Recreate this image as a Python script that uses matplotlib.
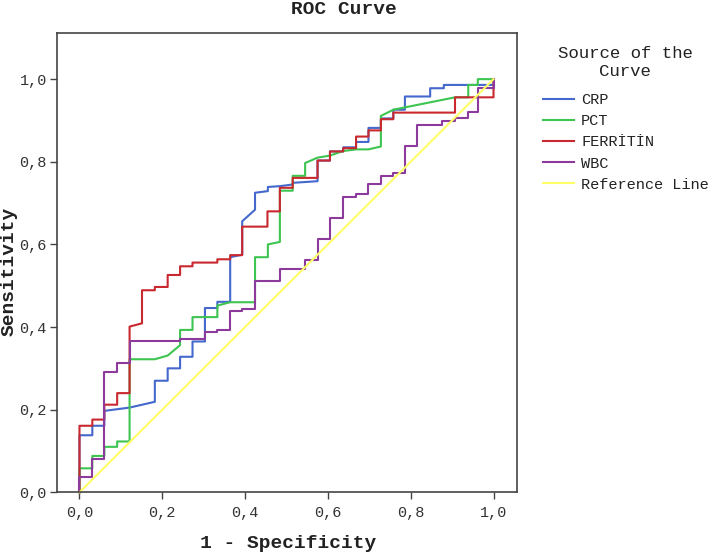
import matplotlib
matplotlib.use("Agg")
import matplotlib.pyplot as plt

# ROC points (1 - specificity, sensitivity)
crp_x = [0, 0, 0.031, 0.031, 0.060, 0.060, 0.121, 0.182, 0.182, 0.213, 0.213, 0.243, 0.243,
         0.273, 0.273, 0.303, 0.303, 0.333, 0.333, 0.364, 0.364, 0.393, 0.393, 0.424, 0.424,
         0.455, 0.455, 0.484, 0.515, 0.515, 0.545, 0.575, 0.575, 0.605, 0.605, 0.637, 0.637,
         0.668, 0.668, 0.698, 0.698, 0.728, 0.728, 0.758, 0.758, 0.786, 0.786, 0.847, 0.847,
         0.880, 0.880, 1.0, 1.0]
crp_y = [0, 0.138, 0.138, 0.161, 0.161, 0.197, 0.205, 0.219, 0.270, 0.270, 0.300, 0.300, 0.328,
         0.328, 0.365, 0.365, 0.446, 0.446, 0.461, 0.461, 0.569, 0.575, 0.656, 0.684, 0.725,
         0.729, 0.739, 0.741, 0.745, 0.749, 0.751, 0.753, 0.803, 0.803, 0.825, 0.825, 0.835,
         0.835, 0.848, 0.848, 0.882, 0.882, 0.905, 0.905, 0.926, 0.926, 0.958, 0.958, 0.978,
         0.978, 0.986, 0.986, 1.0]

pct_x = [0, 0, 0.031, 0.031, 0.060, 0.060, 0.091, 0.091, 0.121, 0.121, 0.182, 0.213, 0.243,
         0.243, 0.273, 0.273, 0.333, 0.333, 0.364, 0.424, 0.424, 0.455, 0.455, 0.484, 0.484,
         0.515, 0.515, 0.545, 0.545, 0.575, 0.605, 0.637, 0.668, 0.698, 0.728, 0.728, 0.758,
         0.907, 0.939, 0.939, 0.962, 0.962, 1.0]
pct_y = [0, 0.058, 0.058, 0.088, 0.088, 0.110, 0.110, 0.123, 0.123, 0.322, 0.322, 0.331, 0.356,
         0.393, 0.393, 0.424, 0.424, 0.452, 0.460, 0.460, 0.569, 0.569, 0.600, 0.606, 0.730,
         0.730, 0.766, 0.766, 0.797, 0.810, 0.815, 0.826, 0.830, 0.830, 0.837, 0.911, 0.926,
         0.956, 0.956, 0.986, 0.986, 1.0, 1.0]

fer_x = [0, 0, 0.031, 0.031, 0.060, 0.060, 0.091, 0.091, 0.121, 0.121, 0.151, 0.151, 0.182,
         0.182, 0.213, 0.213, 0.243, 0.243, 0.273, 0.273, 0.333, 0.333, 0.364, 0.364, 0.393,
         0.393, 0.454, 0.454, 0.484, 0.484, 0.515, 0.515, 0.575, 0.575, 0.605, 0.605, 0.637,
         0.637, 0.668, 0.668, 0.698, 0.698, 0.728, 0.728, 0.758, 0.758, 0.907, 0.907, 1.0, 1.0]
fer_y = [0, 0.161, 0.161, 0.176, 0.176, 0.212, 0.212, 0.240, 0.240, 0.401, 0.409, 0.489, 0.489,
         0.497, 0.497, 0.526, 0.526, 0.547, 0.547, 0.556, 0.556, 0.564, 0.564, 0.574, 0.574,
         0.643, 0.643, 0.680, 0.680, 0.737, 0.737, 0.761, 0.761, 0.803, 0.803, 0.825, 0.825,
         0.833, 0.833, 0.861, 0.861, 0.876, 0.876, 0.903, 0.903, 0.919, 0.919, 0.956, 0.956, 1.0]

wbc_x = [0, 0, 0.031, 0.031, 0.060, 0.060, 0.091, 0.091, 0.121, 0.121, 0.243, 0.243, 0.303,
         0.303, 0.333, 0.333, 0.364, 0.364, 0.393, 0.393, 0.424, 0.424, 0.484, 0.484, 0.545,
         0.545, 0.575, 0.575, 0.605, 0.605, 0.637, 0.637, 0.668, 0.668, 0.698, 0.698, 0.728,
         0.728, 0.758, 0.758, 0.786, 0.786, 0.816, 0.816, 0.876, 0.876, 0.907, 0.907, 0.939,
         0.939, 0.962, 0.962, 1.0, 1.0]
wbc_y = [0, 0.036, 0.036, 0.080, 0.080, 0.291, 0.291, 0.314, 0.314, 0.365, 0.365, 0.372, 0.372,
         0.388, 0.388, 0.394, 0.394, 0.439, 0.439, 0.444, 0.444, 0.511, 0.511, 0.541, 0.541,
         0.562, 0.562, 0.613, 0.613, 0.664, 0.664, 0.715, 0.715, 0.723, 0.723, 0.746, 0.746,
         0.766, 0.766, 0.772, 0.772, 0.837, 0.837, 0.890, 0.890, 0.899, 0.899, 0.905, 0.905,
         0.921, 0.921, 0.978, 0.978, 1.0]

ref_x = [0, 1]
ref_y = [0, 1]

labels = ['CRP', 'PCT', 'FERRİTİN', 'WBC', 'Reference Line']
colors = ['#4468cc', '#3ec450', '#c8282e', '#8c3a9c', '#ffff66']
tick_vals = [0.0, 0.2, 0.4, 0.6, 0.8, 1.0]
tick_labels = ['0,0', '0,2', '0,4', '0,6', '0,8', '1,0']

mono = 'Liberation Mono'
frame_col = '#444444'

fig = plt.figure(figsize=(7.08, 5.53), dpi=100)
ax = fig.add_axes([0.0801, 0.1098, 0.6497, 0.830])

series = [(crp_x, crp_y), (pct_x, pct_y), (fer_x, fer_y), (wbc_x, wbc_y), (ref_x, ref_y)]
handles = []
for (xs, ys), lab, c in zip(series, labels, colors):
    h, = ax.plot(xs, ys, color=c, lw=1.5, label=lab, clip_on=False)
    handles.append(h)

ax.set_xlim(-0.055, 1.056)
ax.set_ylim(0, 1.111)
ax.set_xticks(tick_vals)
ax.set_xticklabels(tick_labels)
ax.set_yticks(tick_vals)
ax.set_yticklabels(tick_labels)
ax.tick_params(direction='out', length=5, width=1, color=frame_col, labelcolor='#333333')
ax.tick_params(axis='x', pad=5)
ax.tick_params(axis='y', pad=2)
for lab in ax.get_xticklabels() + ax.get_yticklabels():
    lab.set_fontfamily(mono)
    lab.set_fontsize(11)
for sp in ax.spines.values():
    sp.set_color(frame_col)
    sp.set_linewidth(1.2)

fig.text(344 / 708, 1 - 9 / 553, 'ROC Curve', family=mono, weight='bold', fontsize=14,
         ha='center', va='center', color='#222222')
fig.text(288 / 708, 1 - 543 / 553, '1 - Specificity', family=mono, weight='bold', fontsize=14,
         ha='center', va='center', color='#222222')
fig.text(9 / 708, 1 - 271 / 553, 'Sensitivity', family=mono, weight='bold', fontsize=14,
         ha='center', va='center', rotation=90, color='#222222')

# legend title set apart as two centred lines, entries below
fig.text(625 / 708, 1 - 53 / 553, 'Source of the', family=mono, fontsize=12.5,
         ha='center', va='center', color='#222222')
fig.text(625 / 708, 1 - 71 / 553, 'Curve', family=mono, fontsize=12.5,
         ha='center', va='center', color='#222222')
leg = fig.legend(handles, labels, loc='upper left',
                 bbox_to_anchor=(543 / 708, 1 - 93 / 553), frameon=False,
                 prop={'family': mono, 'size': 11}, handlelength=2.0, handletextpad=0.5,
                 labelspacing=0.47, borderpad=0, borderaxespad=0)
for t in leg.get_texts():
    t.set_color('#222222')

fig.savefig('out.png', dpi=100)
